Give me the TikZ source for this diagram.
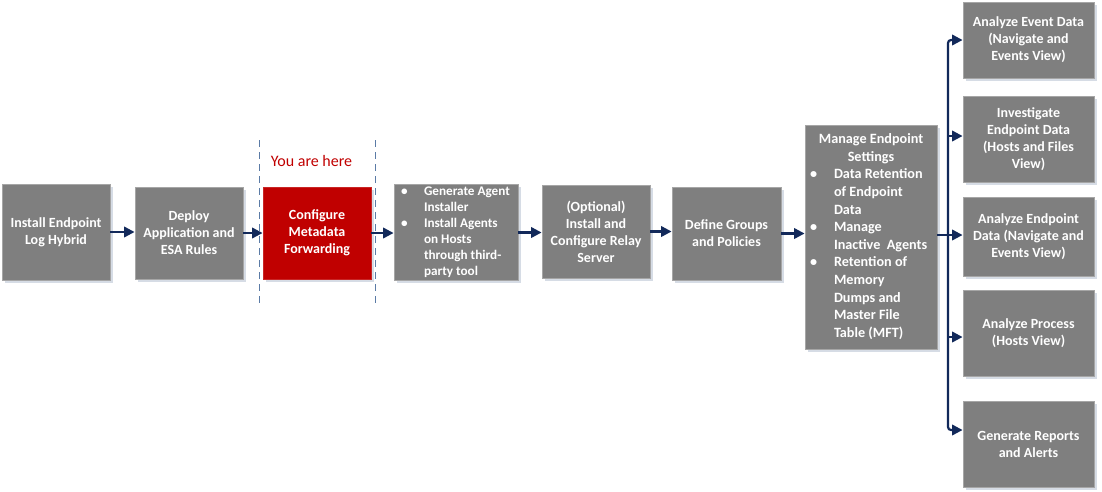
\documentclass[tikz,border=0pt]{standalone}
\usepackage{fontspec}
\setmainfont{Carlito}
\usetikzlibrary{arrows.meta,shadows}
\definecolor{boxgray}{HTML}{7F7F7F}
\definecolor{boxedge}{HTML}{A6A6A6}
\definecolor{shadowc}{HTML}{D6DCE5}
\definecolor{navy}{HTML}{12295A}
\definecolor{hired}{HTML}{C00000}
\definecolor{dashc}{HTML}{5B7BA6}
\tikzset{
  box/.style={draw=boxedge, line width=0.9pt, fill=boxgray, text=white,
    inner sep=0pt, align=center,
    font=\fontsize{14}{17}\selectfont\bfseries,
    drop shadow={shadow xshift=2.5pt, shadow yshift=-2.5pt, fill=shadowc, opacity=1}},
  redbox/.style={box, fill=hired, draw=hired!85!white},
  arr/.style={draw=navy, line width=2.2pt, -{Triangle[length=10.5pt,width=10.5pt]}},
  guide/.style={draw=dashc, line width=0.9pt, dash pattern=on 7pt off 5pt}
}
\newcommand{\bul}{\textbullet}
\begin{document}
\begin{tikzpicture}[x=1pt,y=-1pt]
\useasboundingbox (0,0) rectangle (1102,491);

% guides
\coordinate (g1t) at (259,140);
\coordinate (g1b) at (259,305);
\coordinate (g2t) at (375,140);
\coordinate (g2b) at (375,305);
\draw[guide] (g1t) -- (g1b);
\draw[guide] (g2t) -- (g2b);
\node[text=hired, font=\fontsize{16}{18}\selectfont, inner sep=0pt] (here) at (311.5,161) {You are here};

% main row
\node[box, minimum width=108pt, minimum height=96pt] (n1) at (56,232) {Install Endpoint\\Log Hybrid};
\node[box, minimum width=108pt, minimum height=92pt] (n2) at (189,233) {Deploy\\Application and\\ESA Rules};
\node[redbox, minimum width=108pt, minimum height=92pt] (n3) at (317,233) {Configure\\Metadata\\Forwarding};
\node[box, minimum width=124pt, minimum height=93pt,
  font=\fontsize{13.2}{16}\selectfont\bfseries] (n4) at (456,232.5) {%
  \begin{tabular}{@{}p{30pt}@{}p{94pt}@{}}
  \hspace{7pt}\bul & Generate Agent\\
   & Installer\\
  \hspace{7pt}\bul & Install Agents\\
   & on Hosts\\
   & through third-\\
   & party tool
  \end{tabular}};
\node[box, minimum width=108pt, minimum height=93pt] (n5) at (596,231.5) {(Optional)\\Install and\\Configure Relay\\Server};
\node[box, minimum width=109pt, minimum height=93pt] (n6) at (726.5,233.5) {Define Groups\\and Policies};
\node[box, minimum width=132pt, minimum height=224pt,
  font=\fontsize{14.2}{17.6}\selectfont\bfseries] (n7) at (871,237) {%
  \begin{tabular}{@{}p{29pt}@{}p{103pt}@{}}
  \multicolumn{2}{@{}c@{}}{Manage Endpoint}\\
  \multicolumn{2}{@{}c@{}}{Settings}\\
  \hspace{5pt}\bul & Data Retention\\
   & of Endpoint\\
   & Data\\
  \hspace{5pt}\bul & Manage\\
   & Inactive\ \ Agents\\
  \hspace{5pt}\bul & Retention of\\
   & Memory\\
   & Dumps and\\
   & Master File\\
   & Table (MFT)
  \end{tabular}};

% right column
\node[box, minimum width=131pt, minimum height=76pt] (ra) at (1028.5,40) {Analyze Event Data\\(Navigate and\\Events View)};
\node[box, minimum width=131pt, minimum height=86pt] (rb) at (1028.5,139) {Investigate\\Endpoint Data\\(Hosts and Files\\View)};
\node[box, minimum width=131pt, minimum height=79pt] (rc) at (1028.5,236.5) {Analyze Endpoint\\Data (Navigate and\\Events View)};
\node[box, minimum width=131pt, minimum height=86pt] (rd) at (1028.5,333) {Analyze Process\\(Hosts View)};
\node[box, minimum width=131pt, minimum height=86pt] (re) at (1028.5,444) {Generate Reports\\and Alerts};

% main arrows
\draw[arr] (n1.east) -- (n1.east -| n2.west);
\draw[arr] (n2.east) -- (n2.east -| n3.west);
\draw[arr] (n3.east) -- (n3.east -| n4.west);
\draw[arr] (n4.east) -- (n4.east -| n5.west);
\draw[arr] (n5.east) -- (n5.east -| n6.west);
\draw[arr] (n6.east) -- (n6.east -| n7.west);

% branching
\coordinate (j) at (948,235);
\coordinate (yb) at (0,136);
\coordinate (yd) at (0,337);
\coordinate (ye) at (0,430);
\draw[arr] (n7.east |- j) -- (rc.west |- j);
\draw[arr, rounded corners=3pt] (j) |- (ra.west);
\draw[arr] (j |- yb) -- (rb.west |- yb);
\draw[arr] (j |- yd) -- (rd.west |- yd);
\draw[arr, rounded corners=3pt] (j) |- (re.west |- ye);
\end{tikzpicture}
\end{document}
